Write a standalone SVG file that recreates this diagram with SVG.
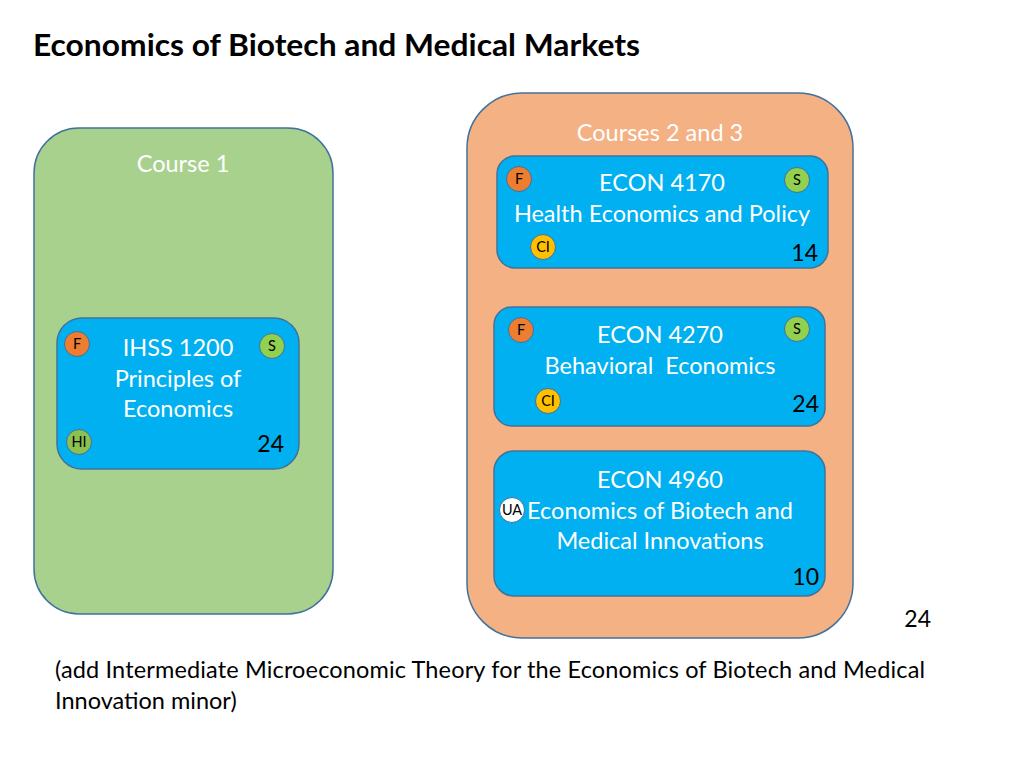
<svg xmlns="http://www.w3.org/2000/svg" width="1024" height="768" viewBox="0 0 1024 768">
<style>
text{font-family:Lato,"Open Sans","Liberation Sans",sans-serif}
.title{font-size:30px;font-weight:bold;fill:#000}
.wt{font-size:23.5px;fill:#fff;text-anchor:middle}
.num{font-size:23px;fill:#000;text-anchor:end}
.cont{stroke:#41719c;stroke-width:1.5}
.box{fill:#00b0f0;stroke:#41719c;stroke-width:1.5}
.badge{stroke:#41719c;stroke-width:1}
.bt{font-size:14.5px;fill:#000;text-anchor:middle}
.note{font-size:23.5px;fill:#000}
</style>
<rect width="1024" height="768" fill="#fff"/>
<text class="title" x="33" y="56" textLength="607" lengthAdjust="spacingAndGlyphs">Economics of Biotech and Medical Markets</text>

<g id="course1">
<rect class="cont" x="34" y="128" width="299" height="486" rx="45" fill="#a9d18e"/>
<text class="wt" x="183" y="172">Course 1</text>
</g>

<g id="ihss1200">
<rect class="box" x="57" y="318" width="242" height="151" rx="25"/>
<text class="wt" x="178" y="356">IHSS 1200</text>
<text class="wt" x="178" y="387">Principles of</text>
<text class="wt" x="178" y="417">Economics</text>
<circle class="badge" cx="77" cy="344" r="12.5" fill="#ed7d31"/><text class="bt" x="77" y="349">F</text>
<circle class="badge" cx="272" cy="346" r="12.5" fill="#92d050"/><text class="bt" x="272" y="351">S</text>
<circle class="badge" cx="79" cy="442" r="12.5" fill="#8cc152"/><text class="bt" x="79" y="447">HI</text>
<text class="num" x="284" y="452">24</text>
</g>

<g id="courses23">
<rect class="cont" x="467" y="93" width="386" height="545" rx="55" fill="#f4b183"/>
<text class="wt" x="660" y="141">Courses 2 and 3</text>
</g>

<g id="econ4170">
<rect class="box" x="497" y="156" width="331" height="112" rx="18"/>
<text class="wt" x="662" y="191">ECON 4170</text>
<text class="wt" x="662" y="222">Health Economics and Policy</text>
<circle class="badge" cx="519" cy="179" r="12.5" fill="#ed7d31"/><text class="bt" x="519" y="184">F</text>
<circle class="badge" cx="797" cy="180" r="12.5" fill="#92d050"/><text class="bt" x="797" y="185">S</text>
<circle class="badge" cx="543" cy="247" r="12.5" fill="#ffc000"/><text class="bt" x="543" y="252">CI</text>
<text class="num" x="818" y="261">14</text>
</g>

<g id="econ4270">
<rect class="box" x="494" y="307" width="331" height="119" rx="18"/>
<text class="wt" x="660" y="343">ECON 4270</text>
<text class="wt" x="660" y="374" xml:space="preserve">Behavioral  Economics</text>
<circle class="badge" cx="521" cy="330" r="12.5" fill="#ed7d31"/><text class="bt" x="521" y="335">F</text>
<circle class="badge" cx="797" cy="329" r="12.5" fill="#92d050"/><text class="bt" x="797" y="334">S</text>
<circle class="badge" cx="548" cy="401" r="12.5" fill="#ffc000"/><text class="bt" x="548" y="406">CI</text>
<text class="num" x="819" y="412">24</text>
</g>

<g id="econ4960">
<rect class="box" x="494" y="451" width="331" height="145" rx="20"/>
<text class="wt" x="660" y="488">ECON 4960</text>
<text class="wt" x="660" y="519">Economics of Biotech and</text>
<text class="wt" x="660" y="549">Medical Innovations</text>
<circle class="badge" cx="512" cy="510" r="12.5" fill="#fff"/><text class="bt" x="512" y="515">UA</text>
<text class="num" x="819" y="585">10</text>
</g>

<text class="num" x="931" y="627">24</text>
<text class="note" x="55" y="678" textLength="870" lengthAdjust="spacing">(add Intermediate Microeconomic Theory for the Economics of Biotech and Medical</text>
<text class="note" x="55" y="709">Innovation minor)</text>
<g id="connectors"/>
</svg>
